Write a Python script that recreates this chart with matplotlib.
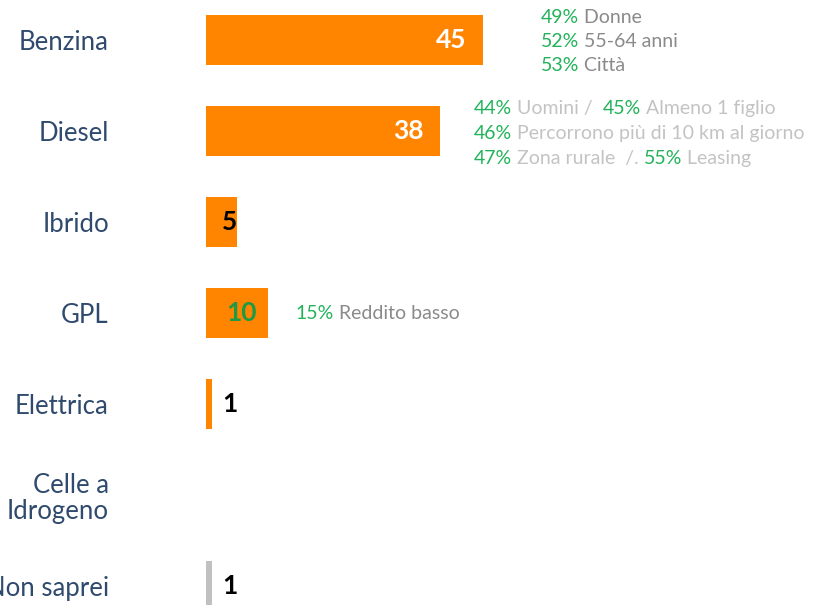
import matplotlib.pyplot as plt

# fuel types, share of answers (%)
categories = ["Benzina", "Diesel", "Ibrido", "GPL", "Elettrica", "Celle a\nIdrogeno", "Non saprei"]
values = [45, 38, 5, 10, 1, 0, 1]

# side notes: list of lines, each a list of (percent, text) pieces
notes_benzina = [[("49%", " Donne")], [("52%", " 55-64 anni")], [("53%", " Città")]]
notes_diesel = [[("44%", " Uomini /  "), ("45%", " Almeno 1 figlio")],
                [("46%", " Percorrono più di 10 km al giorno")],
                [("47%", " Zona rurale  /. "), ("55%", " Leasing")]]
notes_gpl = [[("15%", " Reddito basso")]]

ORANGE = "#ff8400"
GREY_BAR = "#c0c0c0"
NAVY = "#2f4a6d"
GREEN = "#22b35a"

plt.rcParams['font.family'] = ['Lato', 'DejaVu Sans']

fig = plt.figure(figsize=(8.25, 6.05), dpi=100)
ax = fig.add_axes([206 / 825, 0, 619 / 825, 1])

rows = list(range(len(categories)))
colors = [ORANGE] * (len(values) - 1) + [GREY_BAR]
ax.barh(rows, values, height=0.55, color=colors)

ax.set_xlim(0, 619 / 6.16)
ax.set_ylim((605 - 40) / 91, -40 / 91)
ax.set_yticks(rows)
ax.set_yticklabels(categories, fontsize=18.5, color=NAVY, ha='right', linespacing=1.1)
ax.tick_params(axis='y', length=0, pad=70)
ax.set_xticks([])
for s in ax.spines.values():
    s.set_visible(False)

# value labels
for r, v in zip(rows, values):
    if v == 0:
        continue
    if v >= 20:
        ax.text(v - 2.7, r, str(v), ha='right', va='center', color='white',
                fontsize=19, fontweight='bold')
    else:
        col = "#1e9a45" if v == 10 else "black"
        ax.text(max(3.8, v - 4.2), r, str(v), ha='center', va='center', color=col,
                fontsize=19, fontweight='bold')


def draw_notes(x, y0, step, lines, grey):
    for i, segs in enumerate(lines):
        prev = None
        for pct, txt in segs:
            for s, c in ((pct, GREEN), (txt, grey)):
                if prev is None:
                    prev = ax.text(x, y0 + i * step, s, ha='left', va='center',
                                   color=c, fontsize=14)
                else:
                    prev = ax.annotate(s, xy=(1, 0), xycoords=prev, ha='left', va='bottom',
                                       color=c, fontsize=14)


draw_notes(54.4, -0.25, 0.264, notes_benzina, "#8a8a8a")
draw_notes(43.5, 1 - 0.25, 0.274, notes_diesel, "#c3c3c3")
draw_notes(14.6, 3.01, 0.27, notes_gpl, "#8a8a8a")

fig.savefig("out.png", dpi=100)
